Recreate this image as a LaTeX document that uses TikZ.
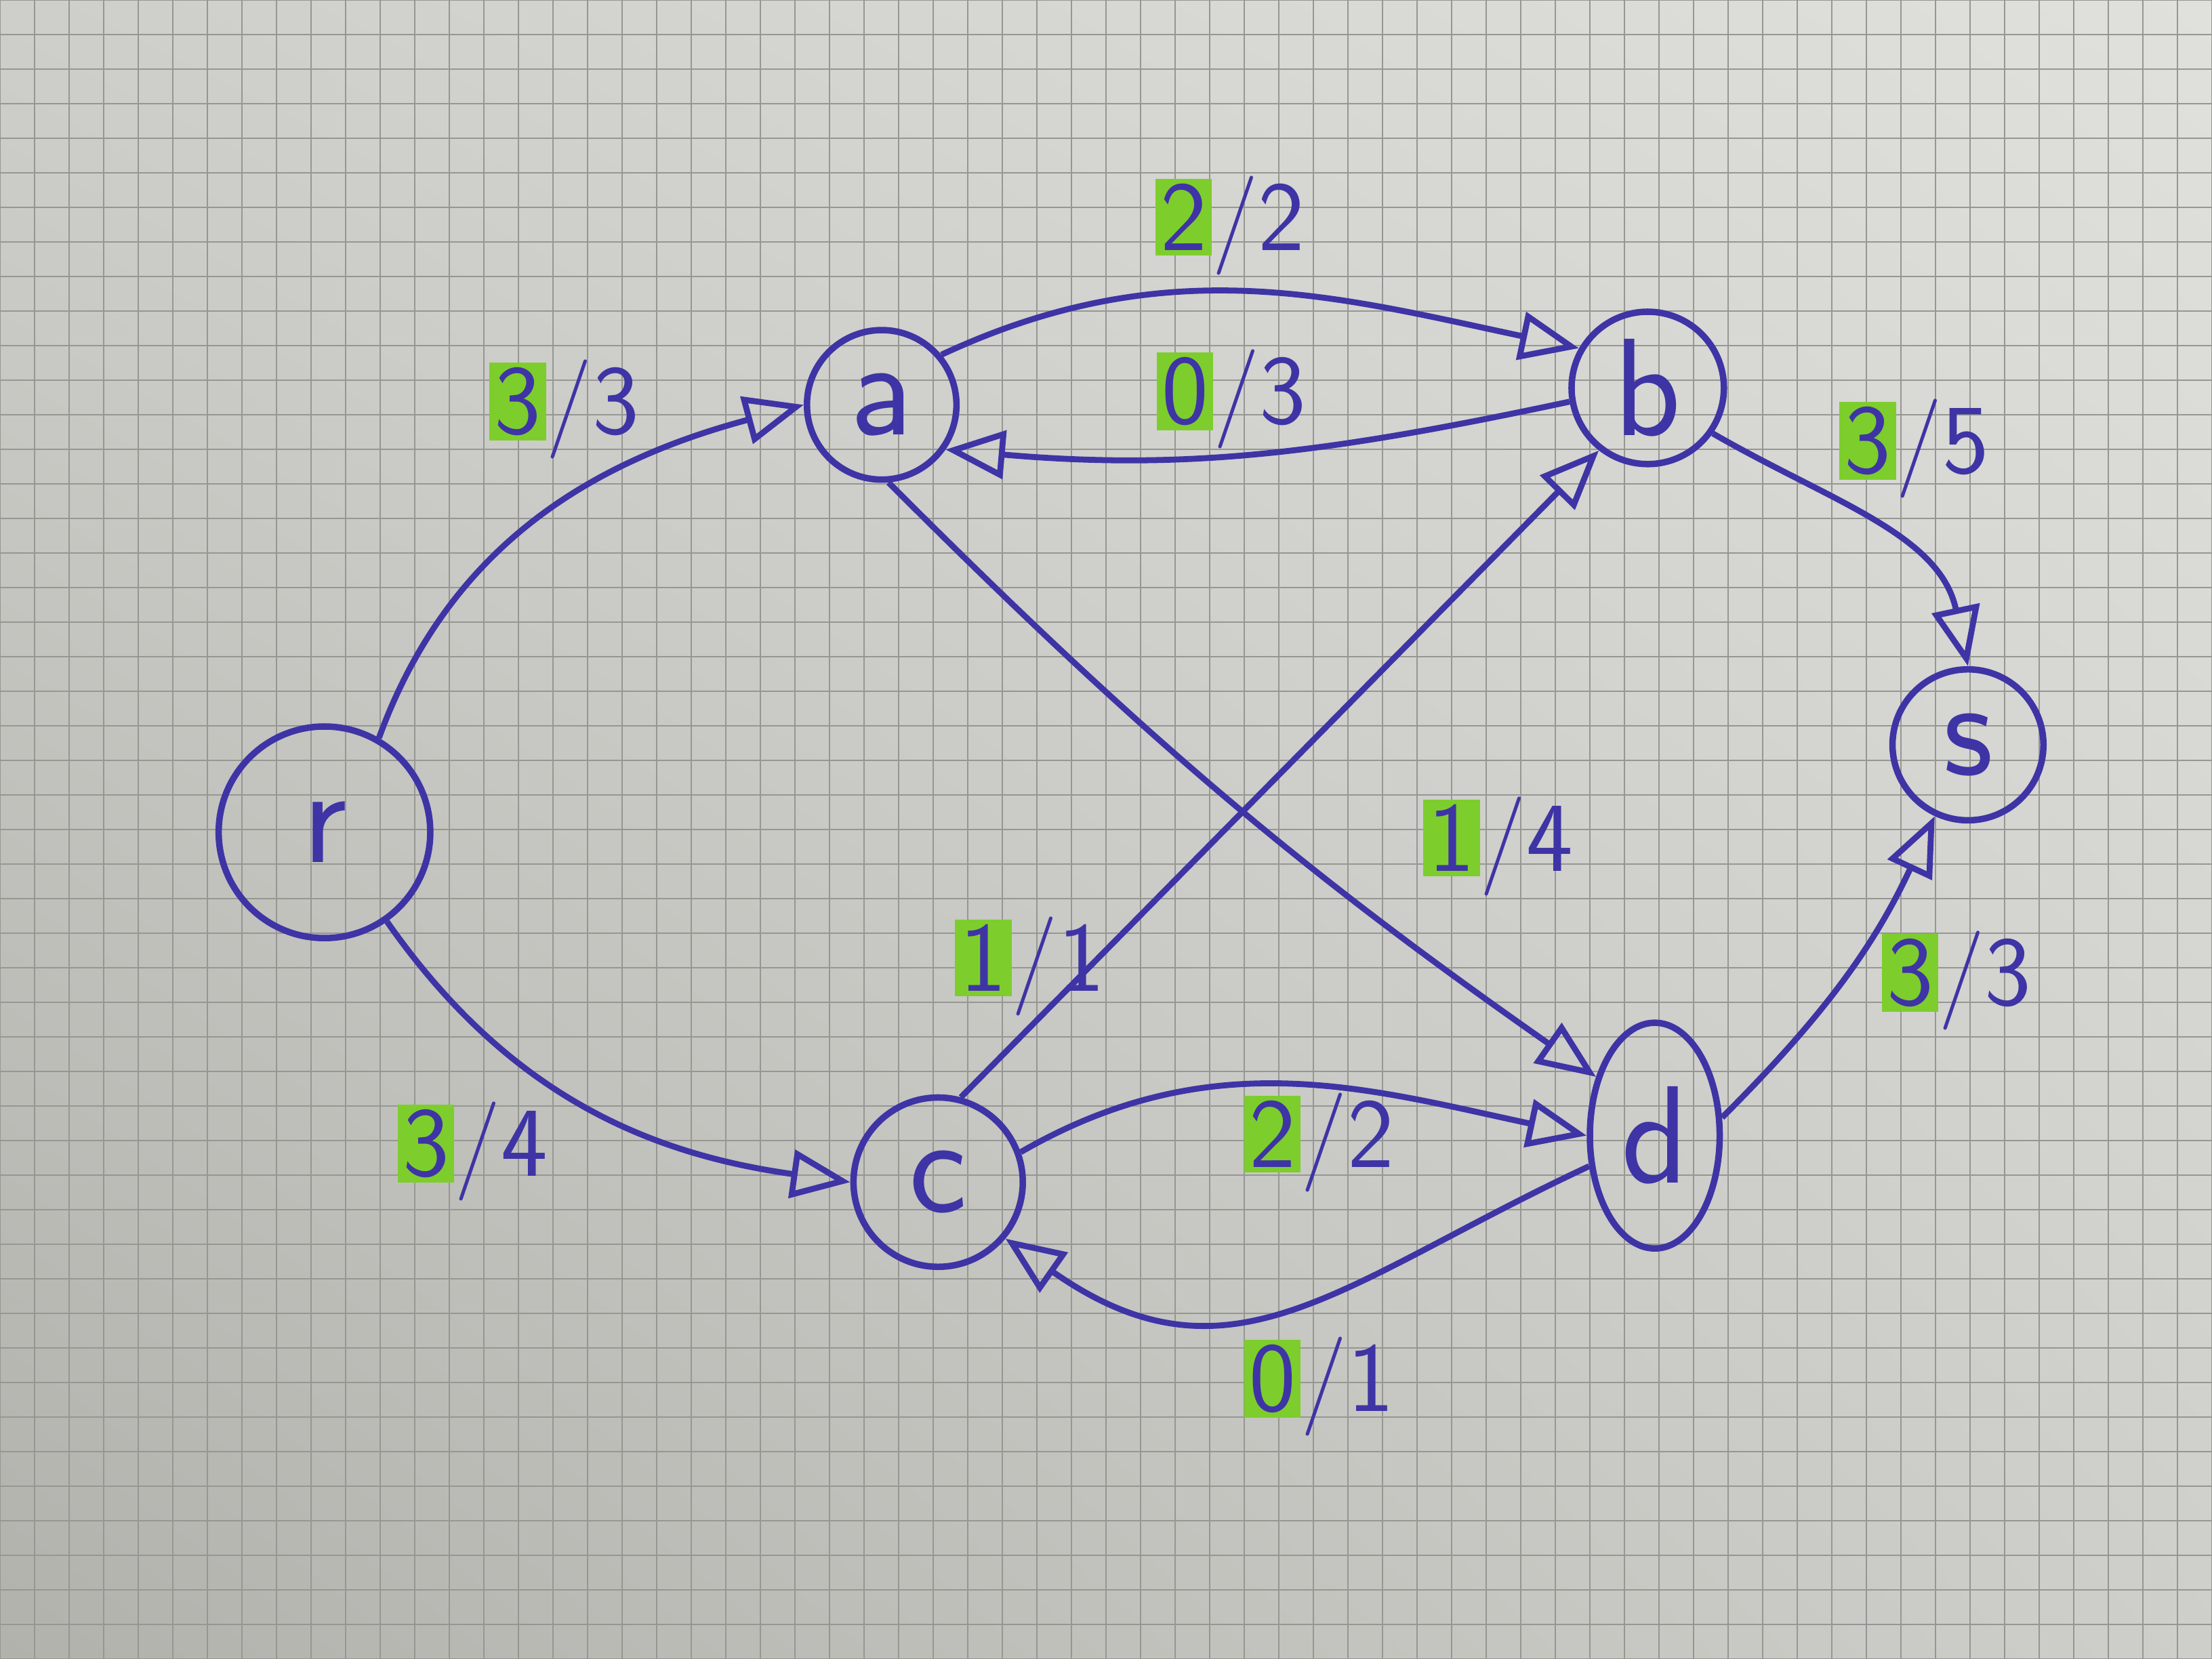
\documentclass[tikz,border=0pt]{standalone}
\usepackage{amsmath, amssymb}
\usepackage{tikz}
\usetikzlibrary{arrows.meta, shapes.geometric, shadings}
\definecolor{ink}{RGB}{62,52,165}
\definecolor{marker}{RGB}{125,205,45}
\definecolor{paperdark}{RGB}{178,178,173}
\definecolor{paperlight}{RGB}{224,224,221}
\definecolor{papermid}{RGB}{206,206,202}
\definecolor{rule}{RGB}{150,150,147}
\newcommand{\hl}[1]{{\setlength{\fboxsep}{1pt}\colorbox{marker}{#1}}}

\begin{document}
\begin{tikzpicture}[
  vertex/.style={draw=ink, circle, inner sep=0pt, line width=1.3pt, text=ink, font=\sffamily\fontsize{28}{32}\selectfont},
  flow/.style={draw=ink, line width=1.2pt, -{Triangle[open, length=0.42cm, width=0.34cm, line width=1.2pt]}},
  capflow/.style={text=ink, font=\sffamily\fontsize{20}{24}\selectfont}
]
\useasboundingbox (0,0) rectangle (15.68,11.76);
\shade [lower left=paperdark, upper right=paperlight, upper left=papermid, lower right=papermid] (0,0) rectangle (15.68,11.76);
\draw [rule, line width=0.35pt, step=0.245] (0,0) grid (15.68,11.76);

% vertices
\node [vertex, minimum size=1.5cm] (r) at (2.30,5.86) {r};
\node [vertex, minimum size=1.06cm] (a) at (6.25,8.89) {a};
\node [vertex, minimum size=1.08cm] (b) at (11.68,9.01) {b};
\node [vertex, minimum size=1.07cm] (s) at (13.95,6.48) {s};
\node [vertex, minimum size=1.2cm] (c) at (6.65,3.38) {c};
\node [vertex, ellipse, minimum width=0.92cm, minimum height=1.6cm] (d) at (11.73,3.71) {d};

% flow / capacity
\node [capflow] (lra) at (4.00,8.86) {\hl{3}/3};
\node [capflow] (lrc) at (3.35,3.60) {\hl{3}/4};
\node [capflow] (lab) at (8.72,10.16) {\hl{2}/2};
\node [capflow] (lba) at (8.73,8.93) {\hl{0}/3};
\node [capflow] (lbs) at (13.57,8.58) {\hl{3}/5};
\node [capflow] (lad) at (10.62,5.76) {\hl{1}/4};
\node [capflow] (lcb) at (7.30,4.91) {\hl{1}/1};
\node [capflow] (lcd) at (9.35,3.66) {\hl{2}/2};
\node [capflow] (ldc) at (9.35,1.93) {\hl{0}/1};
\node [capflow] (lds) at (13.87,4.81) {\hl{3}/3};

% edges
\draw [flow] (r.60) to [out=70, in=195] (a.west);
\draw [flow] (r.-55) to [out=-55, in=172] (c.west);
\draw [flow] (a.40) to [out=25, in=168] (b.150);
\draw [flow] (b.190) to [out=192, in=-5] (a.-35);
\draw [flow] (b.-35) to [out=-30, in=102] (s.north);
\draw [flow] (a.-85) to [out=-45, in=145] (d.135);
\draw [flow] (c.75) -- (b.-128);
\draw [flow] (c.20) to [out=30, in=168] (d.west);
\draw [flow] (d.205) to [out=205, in=-35, looseness=1.2] (c.-40);
\draw [flow] (d.15) to [out=45, in=-115] (s.-115);
\end{tikzpicture}
\end{document}
